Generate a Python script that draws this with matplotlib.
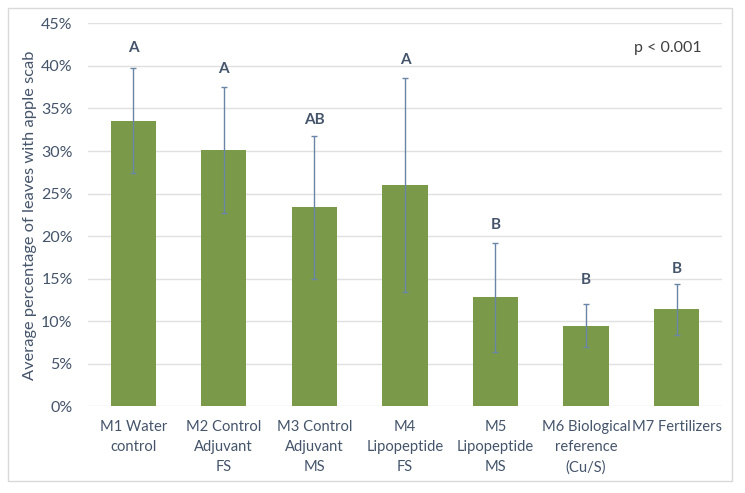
import numpy as np
import matplotlib.pyplot as plt
from matplotlib.patches import Rectangle
from matplotlib.ticker import PercentFormatter

plt.rcParams['font.family'] = ['Lato', 'DejaVu Sans']

categories = ['M1 Water\ncontrol', 'M2 Control\nAdjuvant\nFS', 'M3 Control\nAdjuvant\nMS',
              'M4\nLipopeptide\nFS', 'M5\nLipopeptide\nMS', 'M6 Biological\nreference\n(Cu/S)',
              'M7 Fertilizers']
means = [33.5, 30.1, 23.4, 26.0, 12.8, 9.4, 11.4]
err_hi = [39.8, 37.5, 31.8, 38.6, 19.2, 12.0, 14.4]
err_lo = [27.4, 22.7, 15.0, 13.4, 6.4, 7.0, 8.4]
letters = ['A', 'A', 'AB', 'A', 'B', 'B', 'B']
letter_y = [42.1, 39.6, 33.7, 40.7, 21.3, 14.85, 16.1]

means = np.array(means)
yerr = [means - np.array(err_lo), np.array(err_hi) - means]
x = np.arange(len(categories))

fig = plt.figure(figsize=(7.45, 4.93), dpi=100)
ax = fig.add_axes([0.118, 0.1755, 0.851, 0.7772])

ax.bar(x, means, width=0.5, color='#7A9A4A', zorder=2)
ax.errorbar(x, means, yerr=yerr, fmt='none', ecolor='#6A86A6', elinewidth=1,
            capsize=2.5, capthick=1, zorder=3)
for xi, lab, ly in zip(x, letters, letter_y):
    ax.text(xi, ly, lab, ha='center', va='center', fontsize=11, fontweight='bold',
            color='#44546A')

ax.text(0.915, 0.935, 'p < 0.001', transform=ax.transAxes, ha='center', va='center',
        fontsize=11.5, color='#404040')

ax.set_xlim(-0.5, len(categories) - 0.5)
ax.set_ylim(0, 45)
ax.set_yticks(np.arange(0, 46, 5))
ax.yaxis.set_major_formatter(PercentFormatter(decimals=0))
ax.set_xticks(x)
ax.set_xticklabels(categories, fontsize=10.6, color='#44546A', linespacing=1.55)
ax.tick_params(axis='y', labelsize=11.5, labelcolor='#44546A', length=0, pad=11)
ax.tick_params(axis='x', length=0, pad=10)
ax.set_ylabel('Average percentage of leaves with apple scab', fontsize=11.8,
              color='#44546A', labelpad=3)
ax.grid(axis='y', color='#E0E0E0', linewidth=1, zorder=0)
ax.set_axisbelow(True)
for s in ax.spines.values():
    s.set_visible(False)

fig.patches.append(Rectangle((8 / 745, 1 - 481 / 493), 724 / 745, 473 / 493,
                             transform=fig.transFigure, fill=False,
                             edgecolor='#D9D9D9', linewidth=1))

fig.savefig('out.png', dpi=100)
